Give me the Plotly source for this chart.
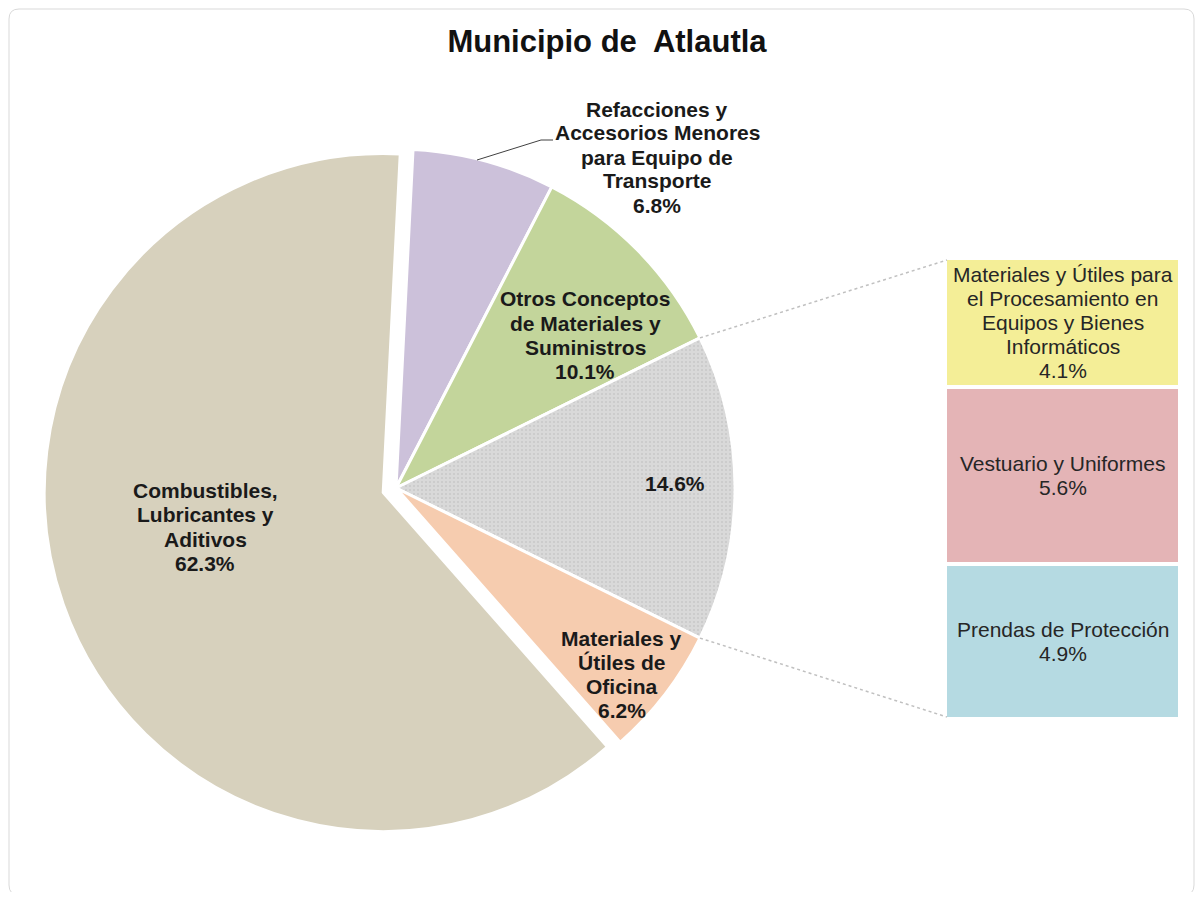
import math
import plotly.graph_objects as go

# ---------------- data ----------------
title_text = "Municipio de\u00a0 Atlautla"

pie_labels = [
    "Refacciones y<br>Accesorios Menores<br>para Equipo de<br>Transporte",
    "Otros Conceptos<br>de Materiales y<br>Suministros",
    "",
    "Materiales y<br>Útiles de<br>Oficina",
    "Combustibles,<br>Lubricantes y<br>Aditivos",
]
pie_names = [
    "Refacciones y Accesorios Menores para Equipo de Transporte",
    "Otros Conceptos de Materiales y Suministros",
    "Otros",
    "Materiales y Útiles de Oficina",
    "Combustibles, Lubricantes y Aditivos",
]
pie_values = [6.8, 10.1, 14.6, 6.2, 62.3]

bar_labels = [
    "Prendas de Protección",
    "Vestuario y Uniformes",
    "Materiales y Útiles para<br>el Procesamiento en<br>Equipos y Bienes<br>Informáticos",
]
bar_values = [4.9, 5.6, 4.1]

# ---------------- style ----------------
OFF = 8                      # page body margin around the figure
W, H = 1203 - 2 * OFF, 900 - 2 * OFF
FONT = "Liberation Sans, Arial, sans-serif"
pie_colors = ["#CCC1DA", "#C3D59B", "#D9D9D9", "#F6CCAF", "#D7D1BD"]
bar_colors = ["#B5DAE2", "#E4B4B6", "#F4EE97"]
other_idx = 2

cx, cy, R = 396, 488, 339          # pie centre / radius in page pixels
max_pull = 0.04
half = R * (1 + max_pull)
total = sum(pie_values)
before_other = sum(pie_values[:other_idx])
rotation = 90 - 360 * (before_other + pie_values[other_idx] / 2) / total

bar_x0, bar_x1 = 945, 1180
bar_top, bar_bot = 258, 719


def px(x):
    return (x - OFF) / W


def py(y):
    return 1 - (y - OFF) / H


fig = go.Figure()

fig.add_trace(go.Pie(
    labels=pie_names,
    values=pie_values,
    sort=False,
    direction="clockwise",
    rotation=rotation,
    pull=[0, 0, 0, 0, max_pull],
    textinfo="none",
    hoverinfo="label+percent",
    showlegend=False,
    marker=dict(
        colors=pie_colors,
        line=dict(color="white", width=3),
        pattern=dict(shape=["" if i != other_idx else "." for i in range(len(pie_values))],
                     fillmode="overlay", fgcolor="#B8B8B8", size=4, solidity=0.2),
    ),
    domain=dict(x=[px(cx - half), px(cx + half)],
                y=[py(cy + half), py(cy - half)]),
))

for lab, val, col in zip(bar_labels, bar_values, bar_colors):
    fig.add_trace(go.Bar(
        x=[0], y=[val], width=1,
        marker=dict(color=col, line=dict(color="white", width=4)),
        hoverinfo="skip", showlegend=False,
        xaxis="x", yaxis="y",
    ))

annotations = []


def add_lines(lines, x_center, y_center, size, bold, spacing, color):
    n = len(lines)
    for i, line in enumerate(lines):
        yy = y_center + (i - (n - 1) / 2) * spacing
        annotations.append(dict(
            x=px(x_center), y=py(yy), xref="paper", yref="paper",
            text=f"<b>{line}</b>" if bold else line, showarrow=False,
            font=dict(family=FONT, size=size, color=color),
            xanchor="center", yanchor="middle",
        ))


# bar segment labels (centred on each stacked segment)
seg_px = (bar_bot - bar_top) / sum(bar_values)
cum = 0
for lab, val in zip(bar_labels, bar_values):
    yc = bar_bot - (cum + val / 2) * seg_px
    add_lines(lab.split("<br>") + [f"{val}%"], (bar_x0 + bar_x1) / 2, yc,
              21, False, 24, "#262626")
    cum += val

# pie slice labels
label_pos = [(657, 157), (585, 335), (675, 483), (622, 674), (205, 527)]
for lab, val, (lx, ly) in zip(pie_labels, pie_values, label_pos):
    lines = (lab.split("<br>") if lab else []) + [f"{val}%"]
    add_lines(lines, lx, ly, 21, True, 24, "#1a1a1a")

shapes = []
# connector lines from the "Otros" slice edges to the bar
a1 = math.radians(rotation + 360 * before_other / total)
a2 = math.radians(rotation + 360 * (before_other + pie_values[other_idx]) / total)
p1 = (cx + R * math.sin(a1), cy - R * math.cos(a1))
p2 = (cx + R * math.sin(a2), cy - R * math.cos(a2))
for (sx, sy), (ex, ey) in [(p1, (bar_x0 + 2, bar_top + 2)), (p2, (bar_x0 + 2, bar_bot - 2))]:
    shapes.append(dict(type="line", xref="paper", yref="paper",
                       x0=px(sx), y0=py(sy), x1=px(ex), y1=py(ey),
                       line=dict(color="#C0C0C0", width=1.5, dash="dot")))

# leader line for the outside label
shapes.append(dict(type="path", xref="paper", yref="paper",
                   path=f"M {px(477)} {py(160)} L {px(541)} {py(140)} L {px(553)} {py(140)}",
                   line=dict(color="#404040", width=1)))

# outer rounded border
r = 10
x0b, y0b, x1b, y1b = OFF + 1, OFF + 1, 1203 - OFF - 1, 895
shapes.append(dict(
    type="path", xref="paper", yref="paper",
    path=(f"M {px(x0b + r)} {py(y0b)} L {px(x1b - r)} {py(y0b)} "
          f"Q {px(x1b)} {py(y0b)} {px(x1b)} {py(y0b + r)} "
          f"L {px(x1b)} {py(y1b - r)} Q {px(x1b)} {py(y1b)} {px(x1b - r)} {py(y1b)} "
          f"L {px(x0b + r)} {py(y1b)} Q {px(x0b)} {py(y1b)} {px(x0b)} {py(y1b - r)} "
          f"L {px(x0b)} {py(y0b + r)} Q {px(x0b)} {py(y0b)} {px(x0b + r)} {py(y0b)} Z"),
    line=dict(color="#D9D9D9", width=1),
))

fig.update_layout(
    width=W, height=H,
    margin=dict(l=0, r=0, t=0, b=0),
    paper_bgcolor="white", plot_bgcolor="white",
    barmode="stack", bargap=0,
    title=dict(text=f"<b>{title_text}</b>", x=px(607), y=py(41),
               xanchor="center", yanchor="middle",
               font=dict(family=FONT, size=31, color="#111111")),
    xaxis=dict(domain=[px(bar_x0), px(bar_x1)], range=[-0.5, 0.5], visible=False,
               fixedrange=True),
    yaxis=dict(domain=[py(bar_bot), py(bar_top)], range=[0, sum(bar_values)],
               visible=False, fixedrange=True),
    annotations=annotations,
    shapes=shapes,
)

fig.write_html("out.html")
